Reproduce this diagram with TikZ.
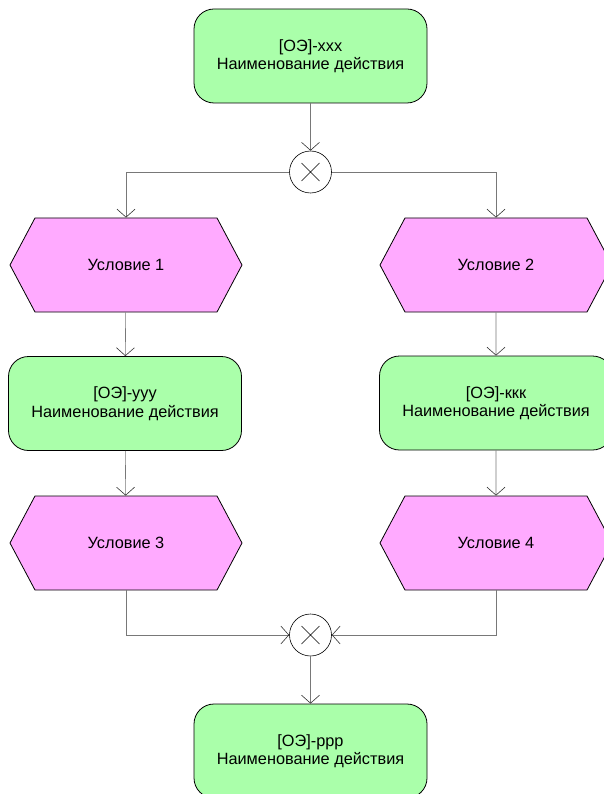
\documentclass[tikz,border=0pt]{standalone}
\usepackage{fontspec}
\setmainfont{Liberation Sans}
\usetikzlibrary{arrows.meta,shapes.symbols}

\definecolor{actgreen}{RGB}{170,255,170}
\definecolor{condpink}{RGB}{255,170,255}
\definecolor{linkgray}{RGB}{120,120,120}

\tikzset{
    action/.style={draw, fill=actgreen, rounded corners=20pt, line width=0.8pt,
        minimum width=233pt, minimum height=94pt, align=center,
        font=\fontsize{16.3}{18.5}\selectfont},
    condition/.style={draw, fill=condpink, signal, signal to=east and west,
        signal pointer angle=124, line width=0.8pt,
        minimum width=232pt, minimum height=94pt, inner sep=0pt,
        font=\fontsize{16.3}{18.5}\selectfont},
    xor/.style={draw, circle, fill=white, minimum size=42pt, inner sep=0pt,
        line width=0.6pt,
        path picture={\draw[line width=0.6pt] (path picture bounding box.center)
            +(-9pt,-9pt) -- +(9pt,9pt) +(-9pt,9pt) -- +(9pt,-9pt);}},
    link/.style={draw=linkgray, line width=0.6pt,
        -{Straight Barb[length=8pt,width=18pt,line width=0.6pt,color=black!80]}}
}

\begin{document}
\begin{tikzpicture}[x=1pt, y=-1pt]
\useasboundingbox (0,0) rectangle (603,794);

% events and functions
\node[action] (xxx) at (310.5,56) {[ОЭ]-xxx\\Наименование действия};
\node[xor] (split) at (310.5,172) {};
\node[condition] (cond1) at (126,265) {Условие 1};
\node[condition] (cond2) at (496,265) {Условие 2};
\node[action] (yyy) at (125,403.5) {[ОЭ]-yyy\\Наименование действия};
\node[action] (kkk) at (496,403) {[ОЭ]-ккк\\Наименование действия};
\node[condition] (cond3) at (126,543) {Условие 3};
\node[condition] (cond4) at (496,543) {Условие 4};
\node[xor] (join) at (310.5,635) {};
\node[action] (ppp) at (310.5,751) {[ОЭ]-ppp\\Наименование действия};

% connectors
\draw[link] (xxx) -- (split);
\draw[link] (split) -| (cond1);
\draw[link] (split) -| (cond2);
\draw[link] (cond1) -- (yyy);
\draw[link] (cond2) -- (kkk);
\draw[link] (yyy) -- (cond3);
\draw[link] (kkk) -- (cond4);
\draw[link] (cond3) |- (join);
\draw[link] (cond4) |- (join);
\draw[link] (join) -- (ppp);

\end{tikzpicture}
\end{document}
